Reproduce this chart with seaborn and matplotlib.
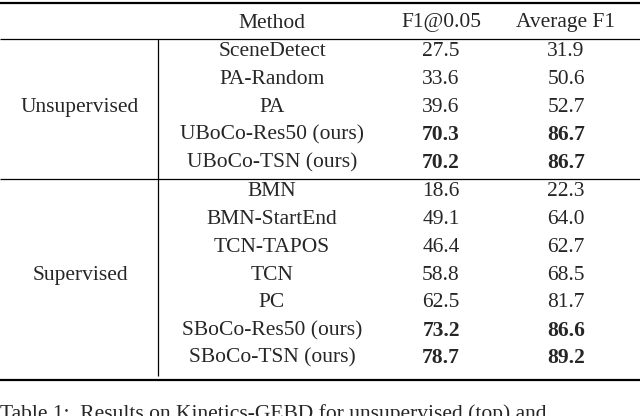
import matplotlib
matplotlib.use("Agg")
import matplotlib.pyplot as plt
import seaborn as sns

sns.set_theme(style="white")
plt.rcParams['font.family'] = ['Liberation Serif', 'DejaVu Serif']

headers = ["Method", "F1@0.05", "Average F1"]
groups = ["Unsupervised", "Supervised"]
unsup_methods = ["SceneDetect", "PA-Random", "PA", "UBoCo-Res50 (ours)", "UBoCo-TSN (ours)"]
unsup_f1 = ["27.5", "33.6", "39.6", "70.3", "70.2"]
unsup_avg = ["31.9", "50.6", "52.7", "86.7", "86.7"]
unsup_bold = [False, False, False, True, True]
sup_methods = ["BMN", "BMN-StartEnd", "TCN-TAPOS", "TCN", "PC", "SBoCo-Res50 (ours)", "SBoCo-TSN (ours)"]
sup_f1 = ["18.6", "49.1", "46.4", "58.8", "62.5", "73.2", "78.7"]
sup_avg = ["22.3", "64.0", "62.7", "68.5", "81.7", "86.6", "89.2"]
sup_bold = [False, False, False, False, False, True, True]
caption = "Table 1:  Results on Kinetics-GEBD for unsupervised (top) and"

fig = plt.figure(figsize=(6.4, 4.16), dpi=100)
ax = fig.add_axes([0, 0, 1, 1])
ax.set_xlim(0, 640)
ax.set_ylim(416, 0)
ax.axis("off")

fs = 15.5
xg, xm, xf, xa = 80, 272, 441, 566
ax.hlines(3, 0, 640, color="black", lw=1.6)
for x, h in zip([xm, xf, xa], headers):
    ax.text(x, 23, h, ha="center", va="center", fontsize=fs)
ax.hlines(39, 0, 640, color="black", lw=0.9)

def block(y0, methods, f1, avg, bold, group):
    ys = [y0 + i * 27.7 for i in range(len(methods))]
    for y, m, a, b, bb in zip(ys, methods, f1, avg, bold):
        w = "bold" if bb else "normal"
        ax.text(xm, y, m, ha="center", va="center", fontsize=fs)
        ax.text(xf, y, a, ha="center", va="center", fontsize=fs, weight=w)
        ax.text(xa, y, b, ha="center", va="center", fontsize=fs, weight=w)
    ax.text(xg, (ys[0] + ys[-1]) / 2, group, ha="center", va="center", fontsize=fs)

block(52, unsup_methods, unsup_f1, unsup_avg, unsup_bold, groups[0])
ax.hlines(179, 0, 640, color="black", lw=0.9)
block(192, sup_methods, sup_f1, sup_avg, sup_bold, groups[1])
ax.hlines(380, 0, 640, color="black", lw=1.6)
ax.vlines(158, 39, 376, color="black", lw=0.9)
ax.text(0, 404, caption, ha="left", va="top", fontsize=fs, clip_on=False)

fig.savefig("out.png", dpi=100)
